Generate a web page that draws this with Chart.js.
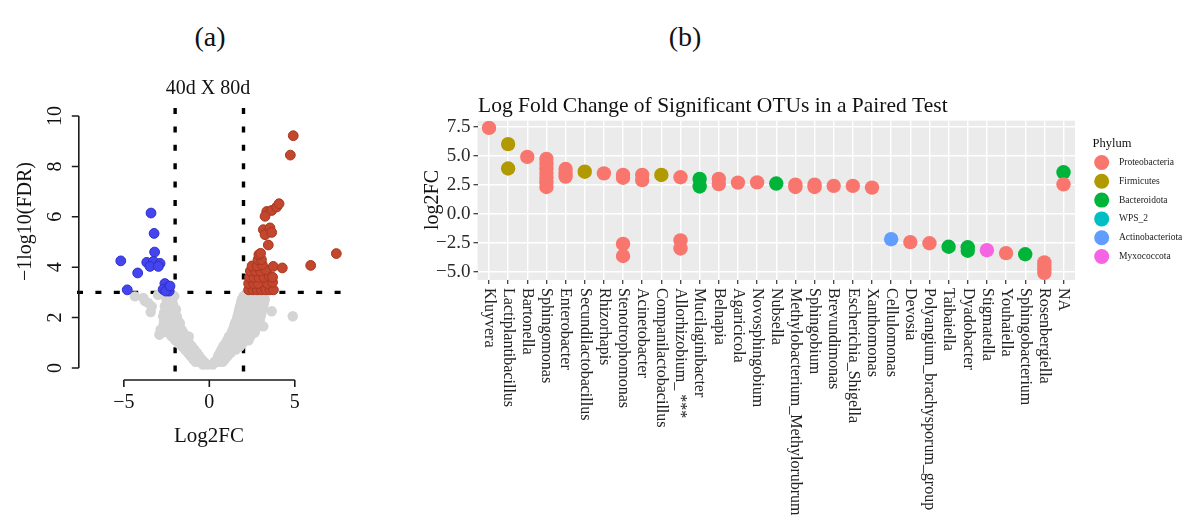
<!DOCTYPE html>
<html>
<head>
<meta charset="utf-8">
<script src="https://cdn.jsdelivr.net/npm/chart.js@4.4.1/dist/chart.umd.min.js"></script>
<style>
  html, body { margin: 0; padding: 0; background: #fff; }
  body { width: 1182px; height: 516px; position: relative; overflow: hidden; font-family: "Liberation Serif", "DejaVu Serif", serif; }
  .wrap { position: absolute; }
  #wrapA { left: 0; top: 80px; width: 400px; height: 436px; }
  #wrapB { left: 400px; top: 80px; width: 782px; height: 436px; }
  .tag { position: absolute; top: 21px; width: 80px; text-align: center; font-size: 28px; line-height: 32px; color: #111; }
</style>
</head>
<body>
<div class="tag" style="left:170px">(a)</div>
<div class="tag" style="left:645px">(b)</div>
<div class="wrap" id="wrapA"><canvas id="volcano" width="400" height="436"></canvas></div>
<div class="wrap" id="wrapB"><canvas id="lfc" width="782" height="436"></canvas></div>

<script>
// ---------- (a) volcano plot: 40d X 80d ----------
const log2fcCut = 2;          // |log2FC| threshold
const fdrCut = 3;             // -log10(FDR) threshold
const volcanoXTicks = [-5, 0, 5];
const volcanoYTicks = [0, 2, 4, 6, 8, 10];

// non-significant OTUs [log2FC, -log10(FDR)]
const greyOTUs = [
  [-0.37,0.13],[-0.1,0.13],[0.2,0.13],
  [-0.8,0.24],[-0.55,0.24],[-0.3,0.24],[0.3,0.24],[0.55,0.24],[0.78,0.24],
  [-0.95,0.35],[-0.7,0.35],[-0.45,0.35],[0.45,0.35],[0.7,0.35],[0.92,0.35],
  [-1.1,0.48],[-0.85,0.48],[-0.6,0.48],[0.52,0.48],[0.8,0.48],[1.08,0.48],
  [-1.25,0.6],[-0.98,0.6],[-0.72,0.6],[0.62,0.6],[0.92,0.6],[1.25,0.6],
  [-1.42,0.73],[-1.15,0.73],[-0.88,0.73],[0.72,0.73],[1.0,0.73],[1.3,0.73],[1.55,0.73],
  [-1.6,0.86],[-1.3,0.86],[-1.03,0.86],[0.82,0.86],[1.12,0.86],[1.45,0.86],[1.8,0.86],
  [-1.8,0.98],[-1.48,0.98],[-1.17,0.98],[0.95,0.98],[1.25,0.98],[1.6,0.98],[1.95,0.98],
  [-2.0,1.1],[-1.65,1.1],[-1.3,1.1],[1.05,1.1],[1.35,1.1],[1.7,1.1],[2.05,1.1],[2.3,1.1],
  [-2.2,1.25],[-1.85,1.25],[-1.55,1.25],[-1.2,1.25],[1.15,1.25],[1.45,1.25],[1.8,1.25],[2.15,1.25],[2.4,1.25],
  [-2.75,1.4],[-2.4,1.4],[-2.05,1.4],[-1.75,1.4],[-1.52,1.4],[1.3,1.4],[1.6,1.4],[1.95,1.4],[2.3,1.4],[2.65,1.4],
  [-2.85,1.52],[-2.55,1.52],[-2.25,1.52],[-1.95,1.52],[-1.62,1.52],[1.38,1.52],[1.7,1.52],[2.0,1.52],[2.35,1.52],[2.7,1.52],
  [-2.7,1.65],[-2.4,1.65],[-2.1,1.65],[-1.75,1.65],[1.45,1.65],[1.75,1.65],[2.1,1.65],[2.45,1.65],[2.8,1.65],
  [-2.65,1.78],[-2.35,1.78],[-2.0,1.78],[-1.72,1.78],[1.5,1.78],[1.82,1.78],[2.15,1.78],[2.5,1.78],[2.85,1.78],
  [-2.65,1.9],[-2.35,1.9],[-2.05,1.9],[-1.85,1.9],[1.6,1.9],[1.9,1.9],[2.25,1.9],[2.6,1.9],[2.95,1.9],
  [-2.7,2.04],[-2.45,2.04],[-2.15,2.04],[-1.9,2.04],[1.65,2.04],[1.95,2.04],[2.3,2.04],[2.65,2.04],[3.0,2.04],
  [-2.65,2.18],[-2.35,2.18],[-2.0,2.18],[1.7,2.18],[2.0,2.18],[2.35,2.18],[2.7,2.18],[3.05,2.18],
  [-2.5,2.32],[-2.2,2.32],[-1.95,2.32],[1.75,2.32],[2.05,2.32],[2.4,2.32],[2.75,2.32],[3.1,2.32],
  [-2.6,2.45],[-2.3,2.45],[-2.1,2.45],[1.8,2.45],[2.1,2.45],[2.45,2.45],[2.8,2.45],[3.15,2.45],
  [-2.45,2.58],[-2.15,2.58],[1.85,2.58],[2.2,2.58],[2.5,2.58],[2.85,2.58],[3.2,2.58],
  [-2.5,2.72],[-2.2,2.72],[1.9,2.72],[2.2,2.72],[2.55,2.72],[2.9,2.72],[3.25,2.72],
  [-2.35,2.85],[-2.05,2.85],[2.0,2.85],[2.3,2.85],[2.6,2.85],[2.9,2.85],[3.2,2.85],
  [-3.43,2.22],[-3.86,2.78],[-4.35,2.84],[-3.76,2.65],[-3.37,2.44],[-3.57,2.58],
  [-2.92,1.32],[3.65,2.25],[3.16,1.65],[4.88,2.05],[-3.0,2.9]
];

// depleted OTUs
const downOTUs = [
  [-3.41,6.15],[-3.23,5.34],[-3.2,4.6],[-5.18,4.25],[-3.66,4.19],[-3.27,4.23],
  [-2.88,4.15],[-3.47,4.03],[-2.98,4.03],[-4.19,3.77],[-4.8,3.1],
  [-2.6,3.35],[-2.4,3.2],[-2.7,3.12],[-2.35,3.05],[-2.55,3.05],[-2.3,3.25]
];

// enriched OTUs
const upOTUs = [
  [2.3,3.1],[2.55,3.1],[2.8,3.1],[3.05,3.1],[3.3,3.1],[3.55,3.1],[3.75,3.1],
  [2.3,3.35],[2.6,3.35],[2.85,3.35],[3.4,3.35],[3.7,3.4],
  [2.35,3.6],[2.6,3.6],[2.9,3.6],[3.2,3.6],[3.5,3.65],[3.7,3.6],
  [2.4,3.85],[2.7,3.85],[3.0,3.85],[3.3,3.9],
  [2.5,4.05],[2.8,4.05],[3.1,4.1],[3.74,4.03],[4.27,3.97],
  [2.85,4.3],[3.05,4.3],[2.9,4.5],[3.0,4.55],
  [3.45,4.88],[3.16,5.49],[3.55,5.56],[3.26,5.29],[3.65,5.38],
  [3.36,6.21],[3.65,6.25],[3.26,6.02],[3.94,6.39],[4.08,6.52],
  [4.74,8.45],[4.91,9.22],[5.93,4.07],[7.43,4.54]
];

const volXMin = -7.74, volXMax = 8.23, volYMin = -0.4, volYMax = 10.32;
const SERIF = '"Liberation Serif", "DejaVu Serif", serif';
const MINUS = '\u2212';
const fmtNum = v => (v < 0 ? MINUS + Math.abs(v) : String(v));

const toXY = arr => arr.map(p => ({ x: p[0], y: p[1] }));

const volcanoAxes = {
  id: 'volcanoAxes',
  afterDraw(chart) {
    const { ctx, scales: { x, y }, chartArea } = chart;
    ctx.save();
    ctx.strokeStyle = '#1a1a1a';
    ctx.fillStyle = '#111';
    ctx.lineWidth = 1.6;
    // left axis
    const ax = chartArea.left + 1.8;
    ctx.beginPath();
    ctx.moveTo(ax, y.getPixelForValue(volcanoYTicks[0]));
    ctx.lineTo(ax, y.getPixelForValue(volcanoYTicks[volcanoYTicks.length - 1]));
    volcanoYTicks.forEach(v => {
      const py = y.getPixelForValue(v);
      ctx.moveTo(ax, py); ctx.lineTo(ax - 7, py);
    });
    ctx.stroke();
    ctx.font = '20px ' + SERIF;
    ctx.textAlign = 'center';
    ctx.textBaseline = 'alphabetic';
    volcanoYTicks.forEach(v => {
      ctx.save();
      ctx.translate(61, y.getPixelForValue(v));
      ctx.rotate(-Math.PI / 2);
      ctx.fillText(fmtNum(v), 0, 0);
      ctx.restore();
    });
    // bottom axis
    const ay = chartArea.bottom + 2;
    ctx.beginPath();
    ctx.moveTo(x.getPixelForValue(volcanoXTicks[0]), ay);
    ctx.lineTo(x.getPixelForValue(volcanoXTicks[volcanoXTicks.length - 1]), ay);
    volcanoXTicks.forEach(v => {
      const px = x.getPixelForValue(v);
      ctx.moveTo(px, ay); ctx.lineTo(px, ay + 7);
    });
    ctx.stroke();
    volcanoXTicks.forEach(v => {
      ctx.fillText(fmtNum(v), x.getPixelForValue(v), 328);
    });
    // titles
    ctx.font = '21px ' + SERIF;
    ctx.fillText('Log2FC', 209, 361.5);
    ctx.font = '20px ' + SERIF;
    ctx.fillText('40d X 80d', 208, 13.5);
    ctx.save();
    ctx.translate(31, 141.5);
    ctx.rotate(-Math.PI / 2);
    ctx.fillText(MINUS + '1log10(FDR)', 0, 0);
    ctx.restore();
    ctx.restore();
  }
};

const cutLine = (pts) => ({
  data: pts, showLine: true, pointRadius: 0, borderColor: '#000',
  borderWidth: 3.4, borderDash: [6, 12.4], order: 10, fill: false
});

new Chart(document.getElementById('volcano'), {
  type: 'scatter',
  data: {
    datasets: [
      { data: toXY(upOTUs), pointRadius: 4.9, backgroundColor: '#C3462F', borderColor: '#A8381F', borderWidth: 1, order: 1 },
      { data: toXY(downOTUs), pointRadius: 4.9, backgroundColor: '#4545EF', borderColor: '#2E2ECC', borderWidth: 1, order: 1 },
      { data: toXY(greyOTUs), pointRadius: 5.2, backgroundColor: '#D4D4D4', borderWidth: 0, order: 3 },
      cutLine([{ x: -log2fcCut, y: volYMax }, { x: -log2fcCut, y: volYMin }]),
      cutLine([{ x: log2fcCut, y: volYMax }, { x: log2fcCut, y: volYMin }]),
      cutLine([{ x: volXMin, y: fdrCut }, { x: volXMax, y: fdrCut }])
    ]
  },
  options: {
    responsive: false,
    animation: false,
    events: [],
    layout: { padding: { left: 77, top: 28, right: 50, bottom: 138 } },
    plugins: { legend: { display: false }, tooltip: { enabled: false } },
    scales: {
      x: { type: 'linear', min: volXMin, max: volXMax, grid: { display: false }, border: { display: false },
           ticks: { display: false }, afterFit(s) { s.height = 0; } },
      y: { type: 'linear', min: volYMin, max: volYMax, grid: { display: false }, border: { display: false },
           ticks: { display: false }, afterFit(s) { s.width = 0; } }
    }
  },
  plugins: [volcanoAxes]
});

// ---------- (b) log fold change of significant OTUs ----------
const genera = [
  "Kluyvera", "Lactiplantibacillus", "Bartonella", "Sphingomonas", "Enterobacter",
  "Secundilactobacillus", "Rhizorhapis", "Stenotrophomonas", "Acinetobacter",
  "Companilactobacillus", "Allorhizobium_ ***", "Mucilaginibacter", "Belnapia",
  "Agaricicola", "Novosphingobium", "Nubsella", "Methylobacterium_Methylorubrum",
  "Sphingobium", "Brevundimonas", "Escherichia_Shigella", "Xanthomonas",
  "Cellulomonas", "Devosia", "Polyangium_brachysporum_group", "Taibaiella",
  "Dyadobacter", "Stigmatella", "Youhaiella", "Sphingobacterium", "Rosenbergiella", "NA"
];

const phyla = ["Proteobacteria", "Firmicutes", "Bacteroidota", "WPS_2", "Actinobacteriota", "Myxococcota"];
const phylumColors = ["#F8766D", "#B09A00", "#00B43A", "#00BFC4", "#619CFF", "#F564E3"];

// [genus, log2FC] for each OTU
const proteobacteria = [
  ["Kluyvera", 7.4], ["Bartonella", 4.9],
  ["Sphingomonas", 4.72], ["Sphingomonas", 4.3], ["Sphingomonas", 3.9], ["Sphingomonas", 3.5],
  ["Sphingomonas", 3.1], ["Sphingomonas", 2.7], ["Sphingomonas", 2.3],
  ["Enterobacter", 3.85], ["Enterobacter", 3.5], ["Enterobacter", 3.2],
  ["Rhizorhapis", 3.48],
  ["Stenotrophomonas", 3.35], ["Stenotrophomonas", 3.1], ["Stenotrophomonas", -2.6], ["Stenotrophomonas", -3.65],
  ["Acinetobacter", 3.35], ["Acinetobacter", 2.9],
  ["Allorhizobium_ ***", 3.14], ["Allorhizobium_ ***", -2.3], ["Allorhizobium_ ***", -3.0],
  ["Belnapia", 3.0], ["Belnapia", 2.55],
  ["Agaricicola", 2.68], ["Novosphingobium", 2.7],
  ["Methylobacterium_Methylorubrum", 2.5], ["Methylobacterium_Methylorubrum", 2.3],
  ["Sphingobium", 2.5], ["Sphingobium", 2.3],
  ["Brevundimonas", 2.4], ["Escherichia_Shigella", 2.4], ["Xanthomonas", 2.25],
  ["Devosia", -2.45], ["Polyangium_brachysporum_group", -2.55], ["Youhaiella", -3.4],
  ["Rosenbergiella", -4.2], ["Rosenbergiella", -4.5], ["Rosenbergiella", -4.8], ["Rosenbergiella", -5.1],
  ["NA", 2.53]
];
const firmicutes = [
  ["Lactiplantibacillus", 6.0], ["Lactiplantibacillus", 3.9],
  ["Secundilactobacillus", 3.62], ["Companilactobacillus", 3.34]
];
const bacteroidota = [
  ["Mucilaginibacter", 3.0], ["Mucilaginibacter", 2.35], ["Nubsella", 2.6],
  ["Taibaiella", -2.85], ["Dyadobacter", -2.9], ["Dyadobacter", -3.2],
  ["Sphingobacterium", -3.5], ["NA", 3.57]
];
const wps2 = [];
const actinobacteriota = [["Cellulomonas", -2.2]];
const myxococcota = [["Stigmatella", -3.15]];

const phylumOTUs = [proteobacteria, firmicutes, bacteroidota, wps2, actinobacteriota, myxococcota];
const lfcTicks = [-5, -2.5, 0, 2.5, 5, 7.5];
const lfcMin = -5.72, lfcMax = 8.02;

const isMajor = v => lfcTicks.some(t => Math.abs(t - v) < 1e-6);
const fmtLfc = v => (v < 0 ? MINUS : '') + Math.abs(v).toFixed(1);

const lfcDecor = {
  id: 'lfcDecor',
  beforeDraw(chart) {
    const { ctx, chartArea: a } = chart;
    ctx.save();
    ctx.fillStyle = '#EBEBEB';
    ctx.fillRect(a.left, a.top, a.right - a.left, a.bottom - a.top);
    ctx.restore();
  },
  afterDraw(chart) {
    const { ctx, scales: { x }, chartArea: a } = chart;
    ctx.save();
    ctx.fillStyle = '#111';
    // title
    ctx.font = '21.5px ' + SERIF;
    ctx.textAlign = 'left';
    ctx.textBaseline = 'alphabetic';
    ctx.fillText('Log Fold Change of Significant OTUs in a Paired Test', 78, 31.5);
    // y title
    ctx.save();
    ctx.translate(38, 120);
    ctx.rotate(-Math.PI / 2);
    ctx.textAlign = 'center';
    ctx.font = '20px ' + SERIF;
    ctx.fillText('log2FC', 0, 0);
    ctx.restore();
    // genus labels
    ctx.font = '16px ' + SERIF;
    ctx.fillStyle = '#222';
    ctx.textBaseline = 'middle';
    genera.forEach((g, i) => {
      ctx.save();
      ctx.translate(x.getPixelForValue(i), a.bottom + 8);
      ctx.rotate(Math.PI / 2);
      ctx.fillText(g, 0, 0);
      ctx.restore();
    });
    // legend
    ctx.fillStyle = '#111';
    ctx.font = '12.5px ' + SERIF;
    ctx.fillText('Phylum', 692.5, 64);
    ctx.font = '9.5px ' + SERIF;
    phyla.forEach((p, i) => {
      const cy = 82.5 + i * 18.8;
      ctx.beginPath();
      ctx.fillStyle = phylumColors[i];
      ctx.arc(701.7, cy, 7.5, 0, Math.PI * 2);
      ctx.fill();
      ctx.fillStyle = '#1a1a1a';
      ctx.fillText(p, 719, cy);
    });
    ctx.restore();
  }
};

new Chart(document.getElementById('lfc'), {
  type: 'scatter',
  data: {
    datasets: phylumOTUs.map((rows, i) => ({
      label: phyla[i],
      data: rows.map(r => ({ x: genera.indexOf(r[0]), y: r[1] })),
      pointRadius: 7.2,
      backgroundColor: phylumColors[i],
      borderWidth: 0
    }))
  },
  options: {
    responsive: false,
    animation: false,
    events: [],
    layout: { padding: { left: 0, top: 40.7, right: 107, bottom: 236 } },
    plugins: { legend: { display: false }, tooltip: { enabled: false } },
    scales: {
      x: {
        type: 'linear', min: -0.6, max: genera.length - 0.4,
        afterBuildTicks(s) { s.ticks = genera.map((g, i) => ({ value: i })); },
        grid: { color: '#FFFFFF', lineWidth: 1.4, tickColor: '#333', tickLength: 4, tickWidth: 1.2 },
        border: { display: false },
        ticks: { display: false },
        afterFit(s) { s.height = 0; }
      },
      y: {
        type: 'linear', min: lfcMin, max: lfcMax,
        afterBuildTicks(s) {
          const t = [];
          lfcTicks.forEach((v, i) => {
            t.push({ value: v });
            if (i < lfcTicks.length - 1) t.push({ value: (v + lfcTicks[i + 1]) / 2 });
          });
          s.ticks = t;
        },
        grid: {
          color: '#FFFFFF',
          lineWidth: c => (c.tick && isMajor(c.tick.value) ? 1.4 : 0.7),
          tickColor: c => (c.tick && isMajor(c.tick.value) ? '#333' : 'rgba(0,0,0,0)'),
          tickLength: 4, tickWidth: 1.2
        },
        border: { display: false },
        ticks: {
          padding: 3, color: '#2a2a2a',
          font: { family: SERIF, size: 19 },
          callback: v => (isMajor(v) ? fmtLfc(v) : '')
        },
        afterFit(s) { s.width = 77.5; }
      }
    }
  },
  plugins: [lfcDecor]
});
</script>
</body>
</html>
